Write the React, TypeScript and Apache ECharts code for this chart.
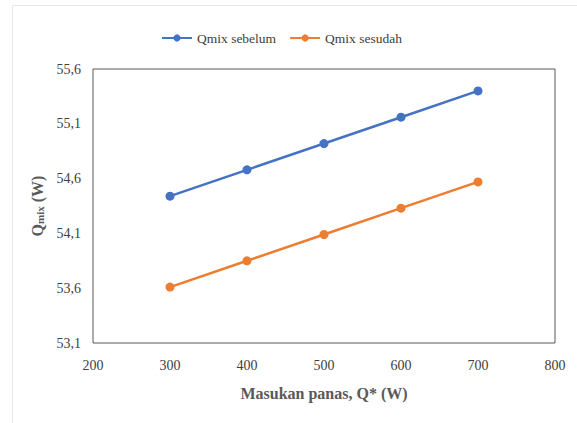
import React, { useEffect, useRef } from "react";
import * as echarts from "echarts";

const xValues = [300, 400, 500, 600, 700];
const seriesNames = ["Qmix sebelum", "Qmix sesudah"];
const qmixSebelum = [54.44, 54.68, 54.92, 55.16, 55.4];
const qmixSesudah = [53.61, 53.85, 54.09, 54.33, 54.57];
const colors = ["#4472C4", "#ED7D31"];

export default function App() {
  const ref = useRef<HTMLDivElement>(null);
  useEffect(() => {
    const chart = echarts.init(ref.current!, null, { renderer: "svg" });
    const font = "Liberation Serif";
    chart.setOption({
      animation: false,
      backgroundColor: "#ffffff",
      textStyle: { fontFamily: font },
      graphic: [
        {
          type: "rect",
          shape: { x: 12.5, y: 5.5, width: 600, height: 500 },
          style: { fill: "none", stroke: "#e6e6e6", lineWidth: 1 },
          silent: true,
        },
      ],
      legend: {
        top: 26,
        left: 156,
        itemWidth: 30,
        itemHeight: 9,
        itemGap: 13,
        textStyle: { fontFamily: font, fontSize: 13.5, color: "#404040" },
        data: seriesNames,
      },
      grid: {
        left: 93,
        right: 22,
        top: 69,
        bottom: 80,
        show: true,
        borderColor: "#595959",
        borderWidth: 1,
        containLabel: false,
      },
      xAxis: {
        type: "value",
        min: 200,
        max: 800,
        interval: 100,
        axisLine: { show: false },
        axisTick: { show: false },
        splitLine: { show: false },
        axisLabel: { fontFamily: font, fontSize: 14, color: "#404040", margin: 15 },
        name: "Masukan panas, Q* (W)",
        nameLocation: "middle",
        nameGap: 42,
        nameTextStyle: { fontFamily: font, fontSize: 16, fontWeight: "bold", color: "#595959" },
      },
      yAxis: {
        type: "value",
        min: 53.1,
        max: 55.6,
        interval: 0.5,
        axisLine: { show: false },
        axisTick: { show: false },
        splitLine: { show: false },
        axisLabel: {
          fontFamily: font,
          fontSize: 14,
          color: "#404040",
          margin: 12,
          formatter: (v: number) => v.toFixed(1).replace(".", ","),
        },
        name: "{q|Q}{s|mix}{q| (W)}",
        nameLocation: "middle",
        nameRotate: 90,
        nameGap: 44,
        nameTextStyle: {
          rich: {
            q: { fontFamily: font, fontSize: 16, fontWeight: "bold", color: "#595959", verticalAlign: "bottom", lineHeight: 20 },
            s: { fontFamily: font, fontSize: 11, fontWeight: "bold", color: "#595959", verticalAlign: "bottom", lineHeight: 14 },
          },
        },
      },
      series: [
        {
          name: seriesNames[0],
          type: "line",
          data: xValues.map((x, i) => [x, qmixSebelum[i]]),
          symbol: "circle",
          symbolSize: 9,
          lineStyle: { width: 2.5, color: colors[0] },
          itemStyle: { color: colors[0] },
        },
        {
          name: seriesNames[1],
          type: "line",
          data: xValues.map((x, i) => [x, qmixSesudah[i]]),
          symbol: "circle",
          symbolSize: 9,
          lineStyle: { width: 2.5, color: colors[1] },
          itemStyle: { color: colors[1] },
        },
      ],
    });
    return () => chart.dispose();
  }, []);
  return (
    <div
      ref={ref}
      style={{ position: "fixed", left: 0, top: 0, width: 577, height: 423 }}
    />
  );
}
